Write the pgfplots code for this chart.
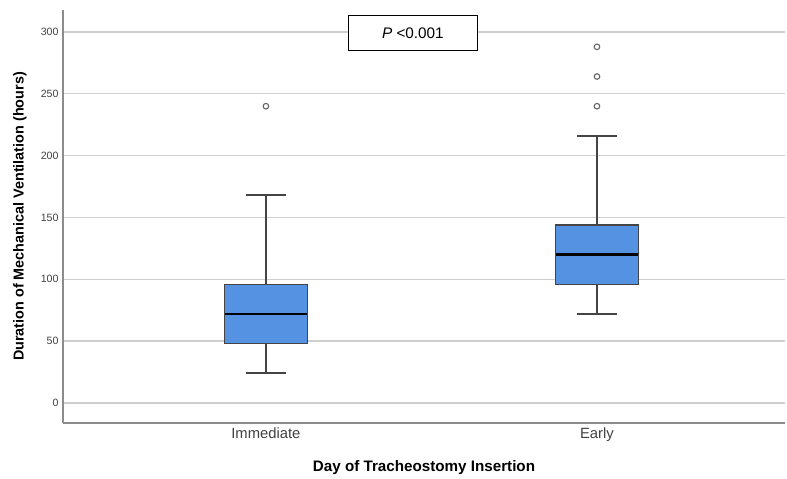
\documentclass[border=0pt]{standalone}
\usepackage{fontspec}
\setmainfont{Liberation Sans}
\usepackage{pgfplots}
\pgfplotsset{compat=1.18}
\definecolor{boxblue}{HTML}{5592E2}
\definecolor{axgray}{HTML}{8C8C8C}
\definecolor{gridgray}{HTML}{CFCFCF}
\definecolor{edge}{HTML}{444444}
\begin{document}
\begin{tikzpicture}
\begin{axis}[
 scale only axis, width=722pt, height=413pt,
 xmin=0.387, xmax=2.568, ymin=-16.2, ymax=317.8,
 axis lines*=left,
 axis line style={draw=axgray, line width=1.3pt},
 ytick={0,50,...,300}, ymajorgrids,
 grid style={draw=gridgray, line width=1.3pt},
 xtick={1,2}, xticklabels={Immediate,Early},
 major tick length=0pt,
 y tick label style={font=\fontsize{10.6}{12}\selectfont, text=black!75, xshift=-1pt},
 x tick label style={font=\fontsize{14.8}{16}\selectfont, text=black!75, yshift=-1pt},
 /pgf/number format/assume math mode=true,
 xlabel={\bfseries Day of Tracheostomy Insertion},
 ylabel={\bfseries Duration of Mechanical Ventilation (hours)},
 xlabel style={font=\fontsize{15.2}{17}\selectfont, at={(rel axis cs:0.5,0)}, anchor=center, yshift=-45pt},
 ylabel style={font=\fontsize{14.4}{16}\selectfont, at={(rel axis cs:0,0.5)}, anchor=center, yshift=43pt},
 clip=false,
 whisk/.style={draw=edge, line width=1.6pt, mark=none, forget plot},
 bx/.style={draw=edge, fill=boxblue, line width=1.5pt, mark=none, forget plot},
 med/.style={draw=black, line width=2.8pt, mark=none, forget plot},
 outl/.style={only marks, mark=o, mark size=2.8pt, mark options={draw=black!60, line width=1.1pt}, forget plot},
]
% Immediate: whiskers 24-168, Q1 48, median 72, Q3 96, outlier 240
\addplot[whisk] coordinates {(1,96) (1,168)};
\addplot[whisk] coordinates {(1,48) (1,24)};
\addplot[whisk] coordinates {(0.94,168) (1.06,168)};
\addplot[whisk] coordinates {(0.94,24) (1.06,24)};
\addplot[bx] coordinates {(0.875,48) (1.125,48) (1.125,96) (0.875,96)} -- cycle;
\addplot[med] coordinates {(0.875,72) (1.125,72)};
\addplot[outl] coordinates {(1,240)};
% Early: whiskers 72-216, Q1 96, median 120, Q3 144, outliers 240 264 288
\addplot[whisk] coordinates {(2,144) (2,216)};
\addplot[whisk] coordinates {(2,96) (2,72)};
\addplot[whisk] coordinates {(1.94,216) (2.06,216)};
\addplot[whisk] coordinates {(1.94,72) (2.06,72)};
\addplot[bx] coordinates {(1.875,96) (2.125,96) (2.125,144) (1.875,144)} -- cycle;
\addplot[med] coordinates {(1.875,120) (2.125,120)};
\addplot[outl] coordinates {(2,240) (2,264) (2,288)};
\node[draw=black, line width=1.5pt, fill=white, minimum width=129pt, minimum height=35pt, font=\fontsize{15.3}{17}\selectfont]
  at (axis cs:1.444,299) {\textit{P} <0.001};
\end{axis}
\pgfresetboundingbox
\path (current axis.south west) ++(-63pt,-56pt) coordinate (bl);
\path (current axis.north east) ++(2pt,10pt) coordinate (tr);
\path (bl) rectangle (tr);
\end{tikzpicture}
\end{document}
